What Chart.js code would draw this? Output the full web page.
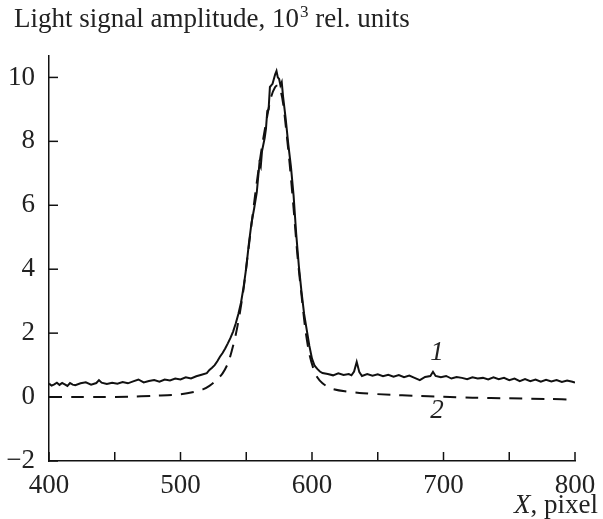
<!DOCTYPE html>
<html lang="en">
<head>
  <meta charset="utf-8">
  <title>Light signal amplitude</title>
  <script src="https://cdn.jsdelivr.net/npm/chart.js"></script>
  <style>
    html, body { margin: 0; padding: 0; background: #fff; }
    .chart-box { position: relative; width: 603px; height: 519px; }
  </style>
</head>
<body>
  <div class="chart-box"><canvas id="signalChart"></canvas></div>

  <script>
    // curve 1: measured signal (solid)
    const sigX = [400,402,404,406,408,410,412,414,416,418,420,424,428,432,436,438,440,444,448,452,456,460,464,468,472,476,480,484,488,492,496,500,504,508,512,516,520,
      522,524,526,528,530,532,534,536,538,540,542,544,546,548,550,552,554,556,558,560,561,562,564,565,566,567,568,569,570,571,572,573,574,575,576,577,578,
      580,582,584,586,588,590,592,594,596,598,600,602,604,606,608,612,616,620,624,628,630,632,634,636,638,642,646,650,654,658,662,666,670,674,678,682,686,690,692,694,698,
      702,706,710,714,718,722,726,730,734,738,742,746,750,754,758,762,766,770,774,778,782,786,790,794,798,800];
    const sigY = [0.42,0.36,0.40,0.45,0.38,0.44,0.40,0.35,0.44,0.39,0.37,0.43,0.46,0.39,0.44,0.53,0.45,0.41,0.45,0.42,0.47,0.43,0.49,0.55,0.46,0.50,0.53,0.48,0.55,0.52,0.58,0.55,0.62,0.58,0.65,0.70,0.75,
      0.85,0.92,1.00,1.12,1.26,1.38,1.52,1.68,1.85,2.05,2.30,2.60,2.95,3.45,4.05,4.80,5.45,5.90,6.40,7.30,7.20,7.70,8.10,8.40,8.95,9.00,9.70,9.75,9.80,9.95,10.10,10.20,10.00,9.95,9.75,9.85,9.40,
      8.70,7.90,7.20,6.30,5.10,4.10,3.30,2.60,2.10,1.60,1.20,0.98,0.88,0.80,0.75,0.72,0.68,0.74,0.69,0.72,0.68,0.80,1.10,0.78,0.66,0.72,0.67,0.71,0.65,0.70,0.64,0.69,0.62,0.67,0.60,0.53,0.63,0.66,0.79,0.66,0.62,
      0.66,0.58,0.63,0.60,0.56,0.62,0.58,0.60,0.55,0.62,0.56,0.60,0.53,0.58,0.50,0.56,0.50,0.55,0.48,0.54,0.49,0.53,0.47,0.52,0.48,0.45];

    // curve 2: model profile (dashed)
    const fitX = [400,420,440,460,480,490,500,510,517,522,527,532,536,539,542,545,548,551,554,557,560,563,566,569,572,574,576,578,580,583,586,589,592,595,598,601,604,608,612,616,625,639,660,677,700,722,750,780,800];
    const fitY = [0.00,0.00,0.00,0.01,0.04,0.06,0.09,0.16,0.24,0.35,0.52,0.74,1.05,1.45,1.95,2.60,3.40,4.40,5.40,6.40,7.30,8.10,8.80,9.40,9.70,9.75,9.60,9.20,8.50,7.30,5.90,4.40,3.20,2.10,1.35,0.90,0.62,0.43,0.32,0.25,0.18,0.12,0.07,0.04,0.01,-0.02,-0.04,-0.06,-0.08];

    const xMajor = [400, 450, 500, 550, 600, 650, 700, 750, 800];
    const yMajor = [-2, 0, 2, 4, 6, 8, 10];

    const serif = '"Liberation Serif", "DejaVu Serif", serif';
    const fontSize = 27;

    const decor = {
      id: 'decor',
      afterDraw(chart) {
        const ctx = chart.ctx;
        const xs = chart.scales.x, ys = chart.scales.y;
        ctx.save();
        ctx.strokeStyle = '#111';
        ctx.lineWidth = 1.5;
        // inward tick marks
        xMajor.forEach(v => {
          const px = xs.getPixelForValue(v);
          ctx.beginPath(); ctx.moveTo(px, ys.bottom); ctx.lineTo(px, ys.bottom - 9); ctx.stroke();
        });
        yMajor.forEach(v => {
          const py = ys.getPixelForValue(v);
          ctx.beginPath(); ctx.moveTo(xs.left, py); ctx.lineTo(xs.left + 9, py); ctx.stroke();
        });

        ctx.fillStyle = '#222';
        ctx.textBaseline = 'alphabetic';
        // y title with superscript
        ctx.font = fontSize + 'px ' + serif;
        let x = 14;
        const base = 27;
        const p1 = 'Light signal amplitude, 10';
        ctx.fillText(p1, x, base);
        x += ctx.measureText(p1).width;
        ctx.font = Math.round(fontSize * 0.62) + 'px ' + serif;
        ctx.fillText('3', x + 1, base - 10);
        x += ctx.measureText('3').width + 1;
        ctx.font = fontSize + 'px ' + serif;
        ctx.fillText(' rel. units', x, base);

        // x title, right aligned
        ctx.textAlign = 'right';
        ctx.fillText(', pixel', 598, 513);
        const w = ctx.measureText(', pixel').width;
        ctx.font = 'italic ' + fontSize + 'px ' + serif;
        ctx.fillText('X', 598 - w, 513);

        // curve labels
        ctx.textAlign = 'center';
        ctx.fillText('1', xs.getPixelForValue(695), ys.getPixelForValue(1.15));
        ctx.fillText('2', xs.getPixelForValue(695), ys.getPixelForValue(-0.65));
        ctx.restore();
      }
    };

    new Chart(document.getElementById('signalChart'), {
      type: 'line',
      data: {
        datasets: [
          { label: '1', data: sigX.map((v, i) => ({ x: v, y: sigY[i] })), borderColor: '#111', borderWidth: 2, pointRadius: 0, tension: 0 },
          { label: '2', data: fitX.map((v, i) => ({ x: v, y: fitY[i] })), borderColor: '#111', borderWidth: 2, borderDash: [13, 9], pointRadius: 0, tension: 0.3 }
        ]
      },
      options: {
        responsive: true,
        maintainAspectRatio: false,
        animation: false,
        layout: { padding: { top: 56, right: 28, left: 0, bottom: 0 } },
        plugins: { legend: { display: false }, tooltip: { enabled: false } },
        scales: {
          x: {
            type: 'linear', min: 400, max: 800,
            grid: { display: false },
            border: { display: true, color: '#111', width: 1.5 },
            ticks: { stepSize: 100, padding: 1, color: '#222', font: { family: serif, size: fontSize }, maxRotation: 0 },
            afterFit: s => { s.height = 58; }
          },
          y: {
            type: 'linear', min: -2, max: 10.67,
            grid: { display: false },
            border: { display: true, color: '#111', width: 1.5 },
            ticks: {
              stepSize: 2, includeBounds: false, padding: 6, color: '#222',
              font: { family: serif, size: fontSize },
              callback: v => v < 0 ? '\u2212' + Math.abs(v) : String(v)
            },
            afterFit: s => { s.width = 49; }
          }
        }
      },
      plugins: [decor]
    });
  </script>
</body>
</html>
